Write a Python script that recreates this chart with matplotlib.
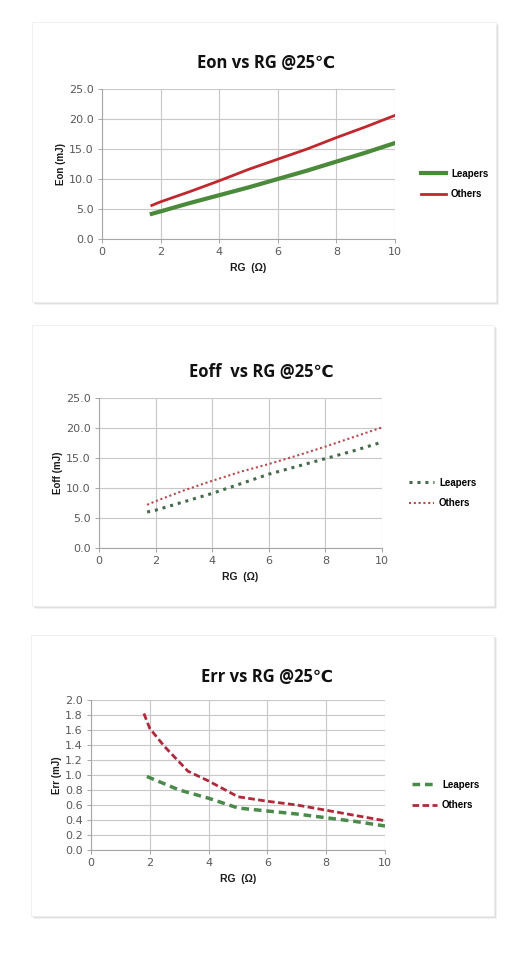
import numpy as np
import matplotlib.pyplot as plt
from matplotlib.patches import Rectangle

# ---- data ----
eon_x_leap = [1.7, 2, 3, 4, 5, 6, 7, 8, 9, 10]
eon_leap = [4.2, 4.6, 6.0, 7.3, 8.6, 10.0, 11.4, 12.9, 14.4, 16.0]
eon_x_oth = [1.7, 2, 3, 4, 5, 6, 7, 8, 9, 10]
eon_oth = [5.6, 6.2, 7.9, 9.7, 11.6, 13.3, 15.0, 16.9, 18.7, 20.6]

eoff_x_leap = [1.7, 2, 3, 4, 5, 6, 7, 8, 9, 9.9]
eoff_leap = [6.0, 6.3, 7.7, 9.1, 10.7, 12.3, 13.6, 14.9, 16.2, 17.5]
eoff_x_oth = [1.7, 2, 3, 4, 5, 6, 7, 8, 9, 10]
eoff_oth = [7.2, 7.8, 9.6, 11.2, 12.7, 14.0, 15.4, 16.9, 18.5, 20.1]

err_x_leap = [1.9, 3, 4, 5, 6, 7, 8, 9, 10]
err_leap = [0.98, 0.80, 0.69, 0.56, 0.52, 0.48, 0.43, 0.38, 0.32]
err_x_oth = [1.8, 2, 2.5, 3.3, 4, 5, 6, 7, 8, 9, 10]
err_oth = [1.82, 1.62, 1.38, 1.05, 0.92, 0.71, 0.65, 0.60, 0.53, 0.46, 0.39]

x_ticks = [0, 2, 4, 6, 8, 10]

W, H = 528, 958
fig = plt.figure(figsize=(W / 100, H / 100), dpi=100)
fig.patch.set_facecolor("white")

tick_col = "#595959"
grid_col = "#c8c8c8"


def card(x0, y0, x1, y1):
    # soft shadow then white card, given in pixel coords (top-left origin)
    for off, a in [(3, 0.05), (2, 0.07), (1, 0.09)]:
        fig.patches.append(Rectangle((x0 / W + off / W, 1 - (y1 + off) / H),
                                     (x1 - x0) / W, (y1 - y0) / H,
                                     transform=fig.transFigure,
                                     facecolor="black", alpha=a, lw=0, zorder=-3))
    fig.patches.append(Rectangle((x0 / W, 1 - y1 / H), (x1 - x0) / W, (y1 - y0) / H,
                                 transform=fig.transFigure, facecolor="white",
                                 edgecolor="#eeeeee", lw=0.6, zorder=-2))


def panel(ax_px, title, title_xy, ylabel, yticks, yfmt):
    l, r, b, t = ax_px
    ax = fig.add_axes([l / W, 1 - b / H, (r - l) / W, (b - t) / H])
    ax.set_facecolor("none")
    ax.set_xlim(0, 10)
    ax.set_ylim(yticks[0], yticks[-1])
    ax.set_xticks(x_ticks)
    ax.set_yticks(yticks)
    ax.set_yticklabels([yfmt.format(v) for v in yticks])
    ax.grid(True, color=grid_col, lw=0.8)
    ax.set_axisbelow(True)
    for s in ["top", "right"]:
        ax.spines[s].set_visible(False)
    for s in ["left", "bottom"]:
        ax.spines[s].set_color("#a6a6a6")
        ax.spines[s].set_linewidth(0.8)
    ax.tick_params(colors=tick_col, labelsize=8, length=3, width=0.7,
                   color="#a6a6a6", pad=3)
    ax.set_ylabel(ylabel, fontsize=7, fontweight="bold", color="#1a1a1a",
                  family=["Liberation Sans", "DejaVu Sans"], labelpad=2)
    ax.set_xlabel("RG  (Ω)", fontsize=7.5, fontweight="bold", color="#1a1a1a",
                  family=["Liberation Sans", "DejaVu Sans"], labelpad=4)
    fig.text(title_xy[0] / W, 1 - title_xy[1] / H, title, ha="center", va="center",
             fontsize=12, fontweight="bold", color="#111111",
             family=["Open Sans", "DejaVu Sans"])
    return ax


def add_legend(ax, leg_xy):
    ax.legend(loc="center left", bbox_to_anchor=(leg_xy[0] / W, 1 - leg_xy[1] / H),
              bbox_transform=fig.transFigure, frameon=False, handlelength=2.6,
              handletextpad=0.5, labelspacing=1.1,
              prop={"family": "Liberation Sans", "weight": "bold", "size": 7})


# panel 1: Eon
card(32, 22, 496, 302)
ax1 = panel((102, 395, 239, 89), "Eon vs RG @25℃", (266, 63), "Eon (mJ)",
            [0, 5, 10, 15, 20, 25], "{:.1f}")
ax1.plot(eon_x_leap, eon_leap, color="#4a8a3a", lw=3, label="Leapers")
ax1.plot(eon_x_oth, eon_oth, color="#c0282d", lw=2, label="Others")
add_legend(ax1, (412, 184))

# panel 2: Eoff
card(32, 325, 494, 606)
ax2 = panel((99, 382, 548, 398), "Eoff  vs RG @25℃", (261, 372), "Eoff (mJ)",
            [0, 5, 10, 15, 20, 25], "{:.1f}")
ax2.plot(eoff_x_leap, eoff_leap, color="#456b4a", lw=2.2, ls=(0, (1, 1.6)),
         label="Leapers")
ax2.plot(eoff_x_oth, eoff_oth, color="#b84a4e", lw=1.5, ls=(0, (1, 1.3)),
         label="Others")
add_legend(ax2, (400, 493))

# panel 3: Err
card(31, 635, 494, 916)
ax3 = panel((91, 385, 850, 700), "Err vs RG @25℃", (267, 677), "Err (mJ)",
            [round(v * 0.2, 1) for v in range(11)], "{:.1f}")
ax3.plot(err_x_leap, err_leap, color="#4a8a4a", lw=2.5, ls=(0, (2.2, 1.4)),
         label="Leapers")
ax3.plot(err_x_oth, err_oth, color="#b0283a", lw=2, ls=(0, (2.4, 1.2)),
         label="Others")
add_legend(ax3, (403, 795))

fig.savefig("out.png", dpi=100)
